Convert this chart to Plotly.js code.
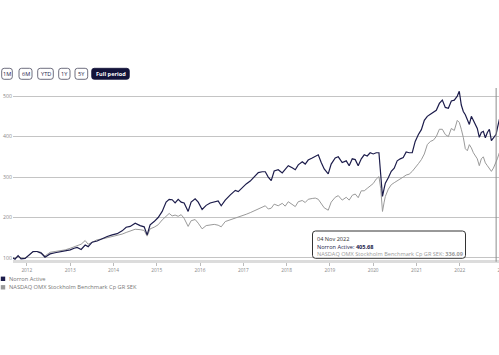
<!DOCTYPE html>
<html>
<head>
<meta charset="utf-8">
<script src="https://cdn.plot.ly/plotly-3.0.1.min.js"></script>
<style>
  html, body { margin: 0; padding: 0; background: #fff; overflow: hidden; width: 499px; height: 355px; }
  #chart { width: 540px; height: 355px; }
</style>
</head>
<body>
<div id="chart"></div>
<script>
// ---- Data ----
const seriesNames = ['Norron Active', 'NASDAQ OMX Stockholm Benchmark Cp GR SEK'];

const dates = [
'2011-09-06','2011-09-23','2011-10-19','2011-11-13','2011-12-17','2012-01-19','2012-02-22','2012-03-27','2012-04-30','2012-06-02',
'2012-07-15','2012-08-26','2012-10-07','2012-11-19','2013-01-01','2013-02-03','2013-02-28','2013-04-03','2013-05-07','2013-06-01',
'2013-07-05','2013-08-16','2013-09-27','2013-11-09','2013-12-21','2014-02-01','2014-03-15','2014-04-18','2014-05-22','2014-07-03',
'2014-08-14','2014-09-17','2014-10-12','2014-11-06','2014-12-10','2015-01-13','2015-02-16','2015-03-21','2015-04-16','2015-05-11',
'2015-06-05','2015-07-01','2015-07-26','2015-08-20','2015-09-23','2015-10-18','2015-11-21','2015-12-17','2016-01-19','2016-02-22',
'2016-03-27','2016-04-30','2016-06-02','2016-06-28','2016-08-01','2016-09-13','2016-10-25','2016-11-19','2016-12-23','2017-01-25',
'2017-02-28','2017-04-03','2017-05-07','2017-06-09','2017-07-05','2017-07-30','2017-08-24','2017-09-18','2017-10-22','2017-11-25',
'2017-12-20','2018-01-15','2018-02-17','2018-03-15','2018-04-09','2018-05-13','2018-06-07','2018-07-02','2018-08-05','2018-08-31',
'2018-09-25','2018-10-20','2018-11-14','2018-12-18','2019-01-12','2019-02-15','2019-03-13','2019-04-15','2019-05-19','2019-06-13',
'2019-07-09','2019-08-03','2019-08-28','2019-09-23','2019-10-18','2019-11-12','2019-12-07','2020-01-02','2020-01-27','2020-02-19',
'2020-03-05','2020-03-20','2020-04-03','2020-04-13','2020-05-08','2020-06-02','2020-06-27','2020-07-22','2020-08-17','2020-09-11',
'2020-10-06','2020-10-31','2020-11-26','2020-12-21','2021-01-17','2021-02-11','2021-03-08','2021-04-02','2021-04-28','2021-05-23',
'2021-06-17','2021-07-13','2021-08-07','2021-09-01','2021-09-27','2021-10-22','2021-11-16','2021-12-11','2021-12-28','2022-01-14',
'2022-01-31','2022-02-17','2022-03-06','2022-03-23','2022-04-09','2022-04-26','2022-05-12','2022-05-29','2022-06-15','2022-07-02',
'2022-07-19','2022-08-05','2022-08-22','2022-09-08','2022-09-25','2022-10-12','2022-11-04','2022-11-14','2022-12-01','2022-12-16'
];

const norron = [
100,97,106,98,99,108,116,116,112,102,
110,113,115,117,120,124,126,121,132,128,
139,142,148,153,157,160,167,176,178,186,
180,177,157,182,190,200,215,238,245,244,
236,245,238,236,215,238,246,238,220,230,
236,238,241,229,243,256,267,264,275,283,
290,300,311,313,313,300,291,315,318,310,
319,328,323,318,330,338,332,342,347,352,
355,336,320,308,332,347,350,336,340,328,
345,343,328,345,355,352,360,357,360,360,
315,252,272,285,298,314,322,340,345,348,
362,360,360,388,405,417,440,450,455,460,
465,482,490,472,470,488,490,500,512,478,
462,454,442,430,450,440,430,420,398,410,
413,397,410,418,390,396,405.68,420,442,445
];

const omx = [
100,99,104,100,99,107,115,116,114,105,
114,116,118,120,124,128,131,134,143,134,
139,145,147,150,152,155,159,163,166,171,
170,168,154,172,176,182,194,204,210,204,
206,203,207,198,178,192,195,186,172,180,
181,183,181,177,190,194,198,200,204,208,
212,217,220,226,229,221,223,233,229,235,
228,239,233,227,239,242,237,245,247,248,
245,235,224,218,238,250,254,243,250,243,
255,258,249,266,266,272,277,284,295,301,
272,215,238,252,270,281,286,290,295,300,
305,307,314,322,333,343,357,380,388,391,
400,418,418,405,400,420,415,440,435,418,
398,370,365,380,372,360,352,345,328,345,
350,335,328,320,314,322,336.09,345,360,362
];

const yTicks = [100, 200, 300, 400, 500];
const buttonLabels = ['1M', '6M', 'YTD', '1Y', '5Y', 'Full period'];
const hoverDate = '2022-11-04';

// ---- Layout geometry ----
const W = 540, H = 355, ML = 13, MT = 88, MR = 30, MB = 95;
const plotW = W - ML - MR, plotH = H - MT - MB;
const px = x => (x - ML) / plotW;
const py = y => (MT + plotH - y) / plotH;

function roundRect(x0, y0, x1, y1, r) {
  const rx = r / plotW, ry = r / plotH;
  const a = px(x0), b = px(x1), top = py(y0), bot = py(y1);
  return `M${a+rx},${top} L${b-rx},${top} Q${b},${top} ${b},${top-ry} L${b},${bot+ry} Q${b},${bot} ${b-rx},${bot} L${a+rx},${bot} Q${a},${bot} ${a},${bot+ry} L${a},${top-ry} Q${a},${top} ${a+rx},${top} Z`;
}

const NAVY = '#1c1c4b';
const GREY = '#9a9a9a';

const traces = [
  { x: dates, y: omx, type: 'scatter', mode: 'lines', name: seriesNames[1],
    line: { color: GREY, width: 1 }, showlegend: false, hoverinfo: 'skip' },
  { x: dates, y: norron, type: 'scatter', mode: 'lines', name: seriesNames[0],
    line: { color: NAVY, width: 1.2 }, showlegend: false, hoverinfo: 'skip' }
];

const shapes = [];
const annotations = [];

// range selector buttons
const btnBoxes = [[1.7,12.3],[19,32],[37.7,53.3],[58.7,70],[75,87.7],[91.7,129.3]];
buttonLabels.forEach((lab, i) => {
  const [x0, x1] = btnBoxes[i];
  const active = i === buttonLabels.length - 1;
  shapes.push({ type: 'path', xref: 'paper', yref: 'paper', path: roundRect(x0, 68.3, x1, 79.3, 2.5),
    fillcolor: active ? '#13133a' : '#ffffff', line: { color: active ? '#13133a' : '#4a4a5e', width: 0.8 } });
  annotations.push({ xref: 'paper', yref: 'paper', x: px((x0 + x1) / 2), y: py(73.9), xanchor: 'center', yanchor: 'middle',
    text: active ? '<b>' + lab + '</b>' : lab, showarrow: false,
    font: { family: 'Open Sans', size: 5.6, color: active ? '#ffffff' : NAVY } });
});

// legend
const legendRows = [[seriesNames[0], NAVY, 278.8], [seriesNames[1], GREY, 287.3]];
legendRows.forEach(([name, col, yc]) => {
  shapes.push({ type: 'rect', xref: 'paper', yref: 'paper', x0: px(0.8), x1: px(5.2), y0: py(yc - 2.2), y1: py(yc + 2.2),
    fillcolor: col, line: { width: 0 } });
  annotations.push({ xref: 'paper', yref: 'paper', x: px(7.3), y: py(yc), xanchor: 'left', yanchor: 'middle',
    text: name, showarrow: false, font: { family: 'Open Sans', size: 5.7, color: '#777777' } });
});

// hover crosshair + tooltip
const hi = dates.indexOf(hoverDate);
const monthNames = ['Jan','Feb','Mar','Apr','May','Jun','Jul','Aug','Sep','Oct','Nov','Dec'];
const [hy, hm, hd] = hoverDate.split('-');
const hoverTitle = `${hd} ${monthNames[+hm - 1]} ${hy}`;
shapes.push({ type: 'line', xref: 'x', yref: 'paper', x0: hoverDate, x1: hoverDate, y0: -0.01, y1: 1,
  line: { color: '#8c8c8c', width: 1 } });
shapes.push({ type: 'path', xref: 'paper', yref: 'paper', path: roundRect(312.5, 231, 465.5, 258.3, 3),
  fillcolor: 'rgba(255,255,255,0.95)', line: { color: '#333333', width: 1 } });
const tipLines = [
  [hoverTitle, '#333333', 239],
  [`${seriesNames[0]}: <b>${norron[hi].toFixed(2)}</b>`, NAVY, 246.6],
  [`${seriesNames[1]}: <b>${omx[hi].toFixed(2)}</b>`, GREY, 254.2]
];
tipLines.forEach(([t, c, yc]) => {
  annotations.push({ xref: 'paper', yref: 'paper', x: px(315.3), y: py(yc), xanchor: 'left', yanchor: 'middle',
    text: t, showarrow: false, font: { family: 'Open Sans', size: 5.6, color: c } });
});

const layout = {
  width: W, height: H,
  margin: { l: ML, r: MR, t: MT, b: MB, pad: 0 },
  paper_bgcolor: '#ffffff', plot_bgcolor: '#ffffff',
  font: { family: 'Open Sans', size: 6, color: '#888888' },
  showlegend: false,
  xaxis: {
    type: 'date', range: ['2011-09-06', '2023-03-01'],
    showgrid: false, zeroline: false,
    showline: true, linecolor: '#dcdcdc', linewidth: 3,
    ticks: 'outside', ticklen: 3, tickcolor: '#bbbbbb', tickwidth: 1,
    dtick: 'M12', tick0: '2012-01-01', tickformat: '%Y',
    tickfont: { family: 'Open Sans', size: 4.8, color: '#888888' }
  },
  yaxis: {
    range: [95, 520], tickvals: yTicks,
    showgrid: true, gridcolor: '#c4c4c4', gridwidth: 1,
    zeroline: false, showline: false, ticks: '',
    tickfont: { family: 'Open Sans', size: 5.2, color: '#888888' }
  },
  shapes: shapes,
  annotations: annotations
};

Plotly.newPlot('chart', traces, layout, { displayModeBar: false, staticPlot: true });
</script>
</body>
</html>
